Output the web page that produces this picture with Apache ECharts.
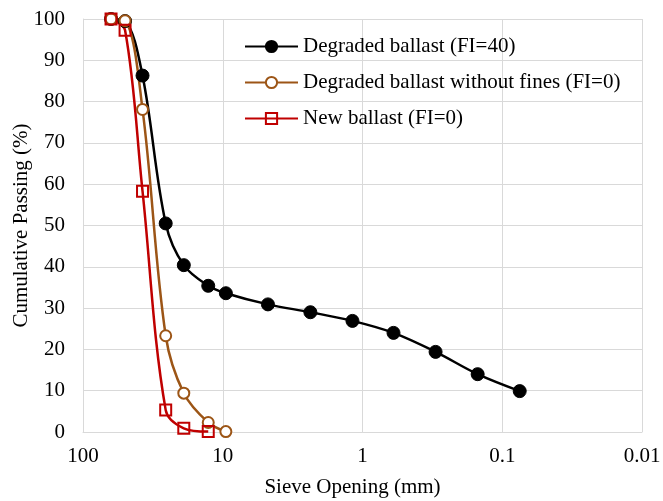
<!DOCTYPE html>
<html>
<head>
<meta charset="utf-8">
<script src="https://cdn.jsdelivr.net/npm/echarts@6/dist/echarts.min.js"></script>
<style>html,body{margin:0;padding:0;background:#fff}#c{width:663px;height:501px}</style>
</head>
<body>
<div id="c"></div>
<script>
// Data
const seriesNames = ['Degraded ballast (FI=40)', 'Degraded ballast without fines (FI=0)', 'New ballast (FI=0)'];
const degradedSize = [63, 50, 37.5, 25.6, 19, 12.7, 9.5, 4.75, 2.36, 1.18, 0.6, 0.3, 0.15, 0.075];
const degradedPassing = [100, 99.5, 86.3, 50.5, 40.4, 35.4, 33.6, 30.9, 29.0, 26.9, 24.0, 19.4, 14.0, 9.9];
const noFinesSize = [63, 50, 37.5, 25.6, 19, 12.7, 9.5];
const noFinesPassing = [100, 99.6, 78.1, 23.3, 9.4, 2.3, 0.1];
const newSize = [63, 50, 37.5, 25.6, 19, 12.7];
const newPassing = [100, 97.3, 58.3, 5.3, 0.9, 0.1];
const xTicks = [100, 10, 1, 0.1, 0.01];

const pairs = (xs, ys) => xs.map((x, i) => [x, ys[i]]);
const font = "'Liberation Serif', 'Times New Roman', serif";
const grid = '#d9d9d9';

const chart = echarts.init(document.getElementById('c'), null, {renderer: 'canvas'});
chart.setOption({
  animation: false,
  backgroundColor: '#fff',
  grid: {left: 83, right: 21, top: 19, bottom: 69, containLabel: false, outerBoundsMode: 'none'},
  legend: {
    left: 239, top: 31, orient: 'vertical',
    itemWidth: 53, itemHeight: 14, itemGap: 15,
    textStyle: {fontFamily: font, fontSize: 21, color: '#000', lineHeight: 21},
    data: seriesNames
  },
  xAxis: {
    type: 'log', logBase: 10, min: 0.01, max: 100, inverse: true,
    name: 'Sieve Opening (mm)', nameLocation: 'middle', nameGap: 45, nameMoveOverlap: false,
    nameTextStyle: {fontFamily: font, fontSize: 21, color: '#000', padding: [0, 20, 0, 0]},
    axisLine: {show: true, lineStyle: {color: grid, width: 1}},
    axisTick: {show: false},
    splitLine: {show: true, lineStyle: {color: grid, width: 1}},
    minorTick: {show: false}, minorSplitLine: {show: false},
    axisLabel: {fontFamily: font, fontSize: 21, color: '#000', margin: 14,
      formatter: v => { const t = xTicks.find(k => Math.abs(Math.log10(k) - Math.log10(v)) < 1e-6); return t !== undefined ? String(t) : ''; }}
  },
  yAxis: {
    type: 'value', min: 0, max: 100, interval: 10,
    name: 'Cumulative Passing (%)', nameLocation: 'middle', nameGap: 51, nameMoveOverlap: false,
    nameTextStyle: {fontFamily: font, fontSize: 21, color: '#000'},
    axisLine: {show: true, lineStyle: {color: grid, width: 1}},
    axisTick: {show: false},
    splitLine: {show: true, lineStyle: {color: grid, width: 1}},
    axisLabel: {fontFamily: font, fontSize: 21, color: '#000', margin: 18}
  },
  series: [
    {
      name: seriesNames[0], type: 'line', smooth: 0.35,
      data: pairs(degradedSize, degradedPassing),
      symbol: 'circle', symbolSize: 13,
      lineStyle: {color: '#000', width: 2.5},
      itemStyle: {color: '#000', borderColor: '#000', borderWidth: 1}
    },
    {
      name: seriesNames[1], type: 'line', smooth: 0.35,
      data: pairs(noFinesSize, noFinesPassing),
      symbol: 'circle', symbolSize: 11,
      lineStyle: {color: '#9C5516', width: 2.5},
      itemStyle: {color: '#fff', borderColor: '#9C5516', borderWidth: 2}
    },
    {
      name: seriesNames[2], type: 'line', smooth: 0.35,
      data: pairs(newSize, newPassing),
      symbol: 'rect', symbolSize: 11,
      lineStyle: {color: '#C00000', width: 2.5},
      itemStyle: {color: 'rgba(255,255,255,0)', borderColor: '#C00000', borderWidth: 2}
    }
  ]
});
</script>
</body>
</html>
